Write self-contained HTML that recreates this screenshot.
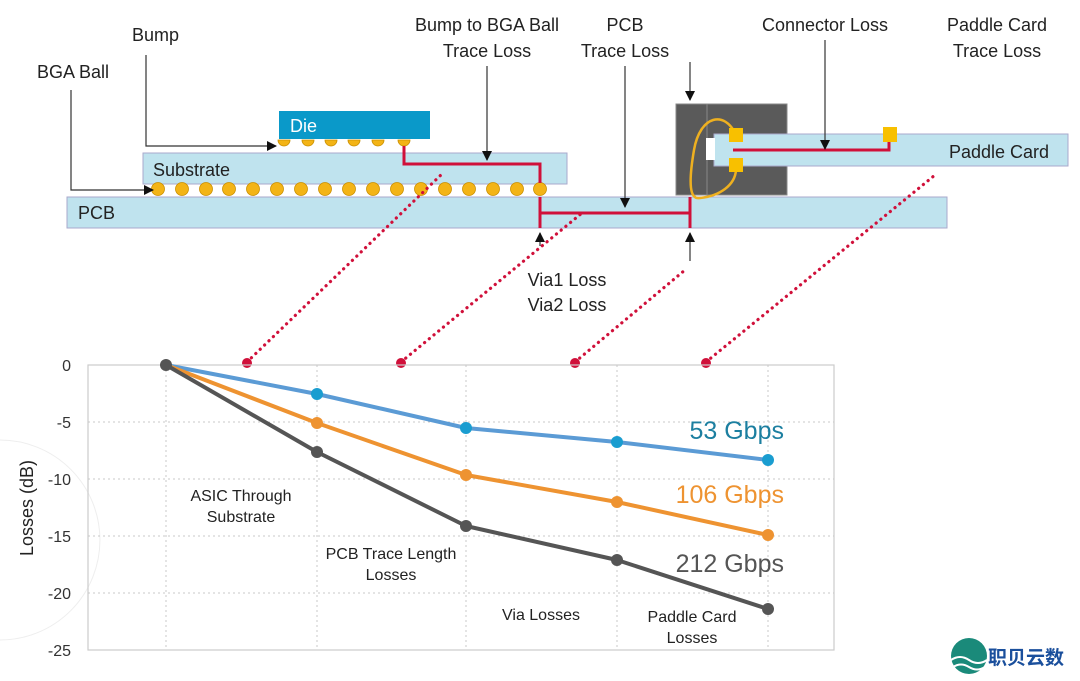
<!DOCTYPE html>
<html><head><meta charset="utf-8"><style>
html,body{margin:0;padding:0;background:#fff;width:1080px;height:681px;overflow:hidden;}
svg{display:block;font-family:"Liberation Sans",Arial,sans-serif;}
</style></head><body>
<svg width="1080" height="681" viewBox="0 0 1080 681" xmlns="http://www.w3.org/2000/svg">
<defs>
<marker id="ah" markerWidth="10" markerHeight="10" refX="9" refY="5" orient="auto" markerUnits="userSpaceOnUse"><path d="M0,0 L10,5 L0,10 z" fill="#111"/></marker>
</defs>
<path d="M0,440 A100,100 0 0 1 0,640" fill="none" stroke="#eee" stroke-width="1"/>

<g font-size="18" fill="#222">
<text x="132" y="41">Bump</text>
<text x="37" y="78">BGA Ball</text>
<text x="487" y="31" text-anchor="middle">Bump to BGA Ball</text>
<text x="487" y="57" text-anchor="middle">Trace Loss</text>
<text x="625" y="31" text-anchor="middle">PCB</text>
<text x="625" y="57" text-anchor="middle">Trace Loss</text>
<text x="825" y="31" text-anchor="middle">Connector Loss</text>
<text x="997" y="31" text-anchor="middle">Paddle Card</text>
<text x="997" y="57" text-anchor="middle">Trace Loss</text>
<text x="567" y="286" text-anchor="middle">Via1 Loss</text>
<text x="567" y="311" text-anchor="middle">Via2 Loss</text>
</g>

<rect x="67" y="197" width="880" height="31" fill="#bfe3ee" stroke="#aac" stroke-width="1"/>
<rect x="143" y="153" width="424" height="31" fill="#bfe3ee" stroke="#aac" stroke-width="1"/>
<rect x="279" y="111" width="151" height="28" fill="#0a99c9"/>
<g font-size="18">
<text x="290" y="132" fill="#fff">Die</text>
<text x="153" y="176" fill="#222">Substrate</text>
<text x="78" y="219" fill="#222">PCB</text>
</g>
<g fill="#f3b416" stroke="#c98f00" stroke-width="0.8">
<path d="M278,140 a6,6 0 0 0 12,0 z"/><path d="M302,140 a6,6 0 0 0 12,0 z"/><path d="M325,140 a6,6 0 0 0 12,0 z"/><path d="M348,140 a6,6 0 0 0 12,0 z"/><path d="M372,140 a6,6 0 0 0 12,0 z"/><path d="M398,140 a6,6 0 0 0 12,0 z"/>
</g>
<g fill="#f3b416" stroke="#c98f00" stroke-width="0.8">
<circle cx="158" cy="189" r="6.5"/><circle cx="182" cy="189" r="6.5"/><circle cx="206" cy="189" r="6.5"/><circle cx="229" cy="189" r="6.5"/><circle cx="253" cy="189" r="6.5"/><circle cx="277" cy="189" r="6.5"/><circle cx="301" cy="189" r="6.5"/><circle cx="325" cy="189" r="6.5"/><circle cx="349" cy="189" r="6.5"/><circle cx="373" cy="189" r="6.5"/><circle cx="397" cy="189" r="6.5"/><circle cx="421" cy="189" r="6.5"/><circle cx="445" cy="189" r="6.5"/><circle cx="469" cy="189" r="6.5"/><circle cx="493" cy="189" r="6.5"/><circle cx="517" cy="189" r="6.5"/><circle cx="540" cy="189" r="6.5"/>
</g>
<rect x="676" y="104" width="111" height="91" fill="#5a5a5a" stroke="#888" stroke-width="1"/>
<line x1="707" y1="104" x2="707" y2="195" stroke="#888" stroke-width="1"/>
<rect x="714" y="134" width="354" height="32" fill="#bfe3ee" stroke="#aac" stroke-width="1"/>
<rect x="706" y="138" width="9" height="22" fill="#fff"/>
<text x="949" y="158" font-size="18" fill="#222">Paddle Card</text>
<path d="M736,135 C725,110 700,115 694,150 C688,185 690,200 700,198 C720,196 735,185 736,170" fill="none" stroke="#eeb020" stroke-width="2.5"/>
<rect x="729" y="128" width="14" height="14" fill="#f8c000"/>
<rect x="729" y="158" width="14" height="14" fill="#f8c000"/>
<rect x="883" y="127" width="14" height="15" fill="#f8c000"/>
<g fill="none" stroke="#d0103a" stroke-width="3">
<polyline points="404,146 404,164 540,164 540,183"/>
<line x1="540" y1="197" x2="540" y2="228"/>
<line x1="540" y1="213" x2="690" y2="213"/>
<line x1="690" y1="197" x2="690" y2="228"/>
<polyline points="733,150 889,150 889,142"/>
</g>
<g stroke="#333" stroke-width="1.2" fill="none">
<polyline points="146,55 146,146 276,146" marker-end="url(#ah)"/>
<polyline points="71,90 71,190 153,190" marker-end="url(#ah)"/>
<line x1="487" y1="66" x2="487" y2="160" marker-end="url(#ah)"/>
<line x1="625" y1="66" x2="625" y2="207" marker-end="url(#ah)"/>
<line x1="690" y1="62" x2="690" y2="100" marker-end="url(#ah)"/>
<line x1="825" y1="40" x2="825" y2="149" marker-end="url(#ah)"/>
<line x1="540" y1="246" x2="540" y2="233" marker-end="url(#ah)"/>
<line x1="690" y1="261" x2="690" y2="233" marker-end="url(#ah)"/>
</g>
<g stroke="#d0103a" stroke-width="3.2" stroke-dasharray="0.1 6" stroke-linecap="round" fill="none">
<line x1="247" y1="362" x2="444" y2="172"/>
<line x1="401" y1="362" x2="582" y2="213"/>
<line x1="575" y1="362" x2="685" y2="270"/>
<line x1="706" y1="362" x2="935" y2="175"/>
</g>
<g fill="#d0103a">
<circle cx="247" cy="363" r="5"/><circle cx="401" cy="363" r="5"/><circle cx="575" cy="363" r="5"/><circle cx="706" cy="363" r="5"/>
</g>

<rect x="88" y="365" width="746" height="285" fill="none" stroke="#ccc" stroke-width="1.2"/>
<g stroke="#c8c8c8" stroke-width="1" stroke-dasharray="2 3">
<line x1="88" y1="422" x2="834" y2="422"/><line x1="88" y1="479" x2="834" y2="479"/><line x1="88" y1="536" x2="834" y2="536"/><line x1="88" y1="593" x2="834" y2="593"/>
<line x1="166" y1="365" x2="166" y2="650"/><line x1="317" y1="365" x2="317" y2="650"/><line x1="466" y1="365" x2="466" y2="650"/><line x1="617" y1="365" x2="617" y2="650"/><line x1="768" y1="365" x2="768" y2="650"/>
</g>
<g font-size="16" fill="#333" text-anchor="end">
<text x="71" y="371">0</text><text x="71" y="428">-5</text><text x="71" y="485">-10</text><text x="71" y="542">-15</text><text x="71" y="599">-20</text><text x="71" y="656">-25</text>
</g>
<text transform="translate(33,508) rotate(-90)" font-size="18" fill="#222" text-anchor="middle">Losses (dB)</text>
<g font-size="16" fill="#222" text-anchor="middle">
<text x="241" y="501">ASIC Through</text><text x="241" y="522">Substrate</text>
<text x="391" y="559">PCB Trace Length</text><text x="391" y="580">Losses</text>
<text x="541" y="620">Via Losses</text>
<text x="692" y="622">Paddle Card</text><text x="692" y="643">Losses</text>
</g>
<g fill="none" stroke-width="4" stroke-linejoin="round">
<polyline points="166,365 317,394 466,428 617,442 768,460" stroke="#5b9bd5"/>
<polyline points="166,365 317,423 466,475 617,502 768,535" stroke="#ee9331"/>
<polyline points="166,365 317,452 466,526 617,560 768,609" stroke="#555"/>
</g>
<g fill="#1a9dd0"><circle cx="317" cy="394" r="6"/><circle cx="466" cy="428" r="6"/><circle cx="617" cy="442" r="6"/><circle cx="768" cy="460" r="6"/></g>
<g fill="#ee9331"><circle cx="317" cy="423" r="6"/><circle cx="466" cy="475" r="6"/><circle cx="617" cy="502" r="6"/><circle cx="768" cy="535" r="6"/></g>
<g fill="#555"><circle cx="166" cy="365" r="6"/><circle cx="317" cy="452" r="6"/><circle cx="466" cy="526" r="6"/><circle cx="617" cy="560" r="6"/><circle cx="768" cy="609" r="6"/></g>
<g font-size="25" text-anchor="end">
<text x="784" y="439" fill="#1c7fa0">53 Gbps</text>
<text x="784" y="503" fill="#ee9331">106 Gbps</text>
<text x="784" y="572" fill="#555">212 Gbps</text>
</g>
<circle cx="969" cy="656" r="18" fill="#1a8a7a"/>
<path d="M951,660 q9,-6 18,0 t18,0 M953,667 q8,-5 16,0 t16,0" stroke="#fff" stroke-width="2" fill="none"/>
<text x="988" y="664" font-size="19" font-weight="bold" fill="#1a4f9c" font-family="'Liberation Sans','Noto Sans CJK SC',sans-serif">职贝云数</text>
</svg>
</body></html>
